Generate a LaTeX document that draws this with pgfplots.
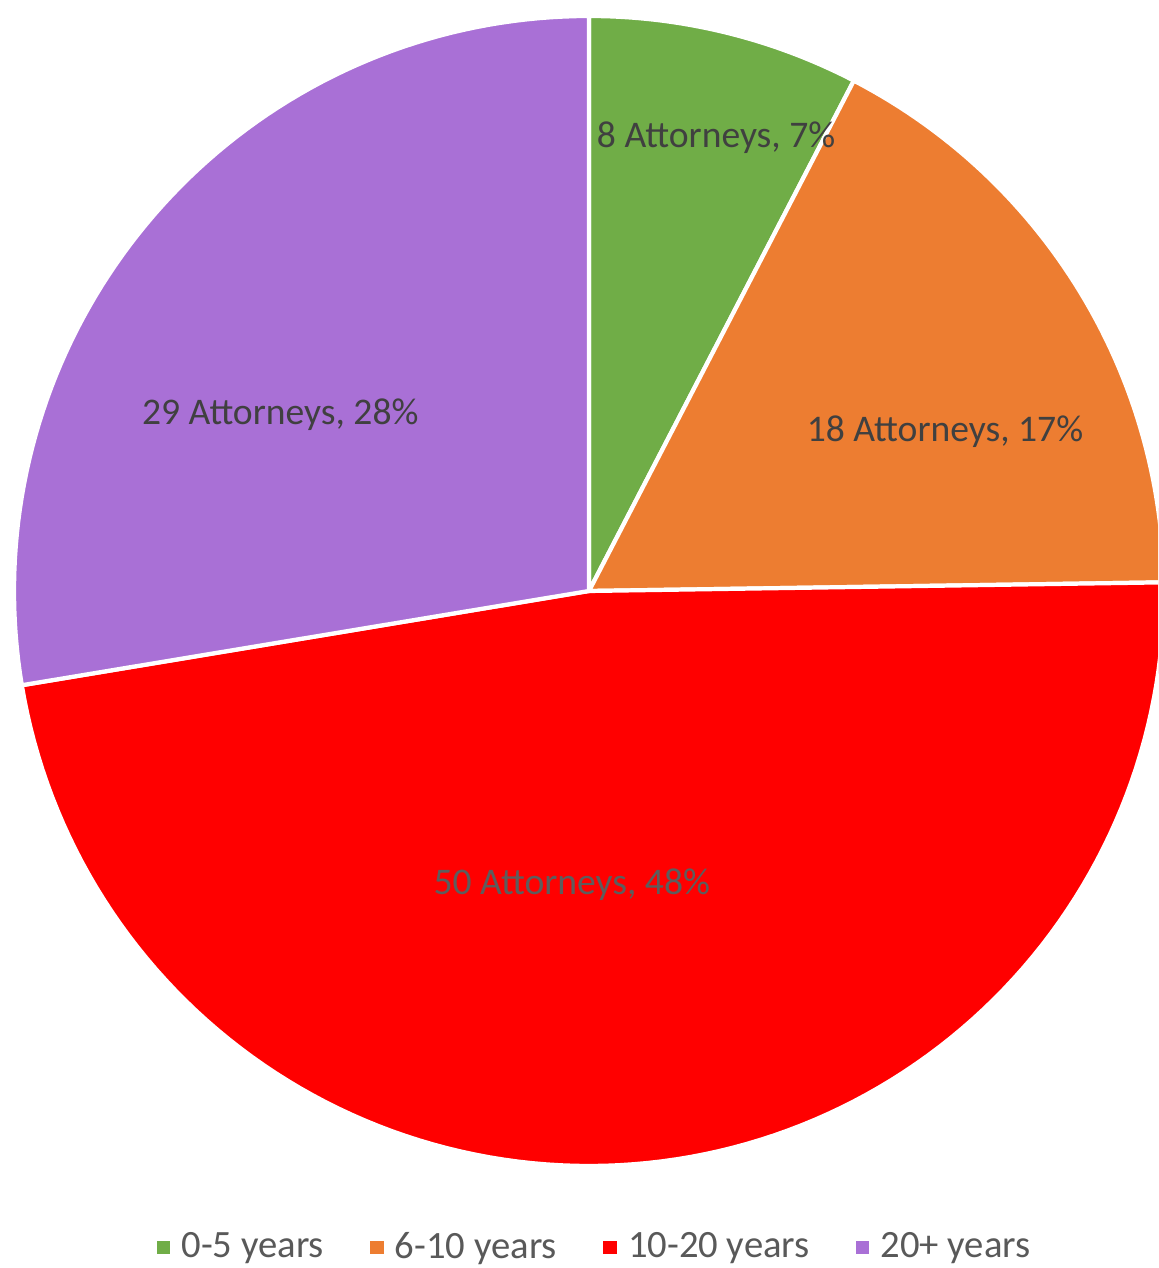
\documentclass[border=0pt]{standalone}
\usepackage{pgfplots}
\pgfplotsset{compat=1.18}
\usepackage{fontspec}
\setmainfont{Carlito}
\definecolor{cgreen}{HTML}{70AD47}
\definecolor{corange}{HTML}{ED7D31}
\definecolor{cred}{HTML}{FF0000}
\definecolor{cpurple}{HTML}{A970D6}
\definecolor{lbl}{HTML}{404040}
\definecolor{leg}{HTML}{595959}
% data: number of attorneys
\def\vA{8}\def\vB{18}\def\vC{50}\def\vD{29}
\pgfmathsetmacro\tot{\vA+\vB+\vC+\vD}
\pgfmathsetmacro\aA{90}
\pgfmathsetmacro\aB{\aA-\vA/\tot*360}
\pgfmathsetmacro\aC{\aB-\vB/\tot*360}
\pgfmathsetmacro\aD{\aC-\vC/\tot*360}
\pgfmathsetmacro\aE{\aD-\vD/\tot*360}
\begin{document}
\begin{tikzpicture}
\begin{axis}[
  name=ax,
  x=5.75cm, y=5.75cm,
  xmin=-1.02435, xmax=0.98957, ymin=-1.17739, ymax=1.02783,
  hide axis,
  legend columns=4,
  legend style={draw=none, fill=none, at={(rel axis cs:0.516,0.016)}, anchor=center,
    font=\fontsize{11}{12}\selectfont\color{leg},
    /tikz/every even column/.append style={column sep=0.4cm},
    /tikz/every odd column/.append style={column sep=0.05cm}},
  legend cell align=left,
]
\addplot[fill=cgreen, draw=white, line width=1.2pt, domain=\aB:\aA, samples=40, variable=\t, forget plot]
  ({cos(\t)},{sin(\t)}) -- (axis cs:0,0) -- cycle;
\addplot[fill=corange, draw=white, line width=1.2pt, domain=\aC:\aB, samples=60, variable=\t, forget plot]
  ({cos(\t)},{sin(\t)}) -- (axis cs:0,0) -- cycle;
\addplot[fill=cred, draw=white, line width=1.2pt, domain=\aD:\aC, samples=120, variable=\t, forget plot]
  ({cos(\t)},{sin(\t)}) -- (axis cs:0,0) -- cycle;
\addplot[fill=cpurple, draw=white, line width=1.2pt, domain=\aE:\aD, samples=80, variable=\t, forget plot]
  ({cos(\t)},{sin(\t)}) -- (axis cs:0,0) -- cycle;
\addlegendimage{only marks, mark=square*, mark size=1.7pt, color=cgreen}
\addlegendentry{0-5 years}
\addlegendimage{only marks, mark=square*, mark size=1.7pt, color=corange}
\addlegendentry{6-10 years}
\addlegendimage{only marks, mark=square*, mark size=1.7pt, color=cred}
\addlegendentry{10-20 years}
\addlegendimage{only marks, mark=square*, mark size=1.7pt, color=cpurple}
\addlegendentry{20+ years}
\begin{scope}[every node/.style={font=\fontsize{10.7}{12}\selectfont, text=lbl}]
\node at (axis cs:0.221,0.788) {8 Attorneys, 7\%};
\node at (axis cs:0.619,0.277) {18 Attorneys, 17\%};
\node[text=lbl!85!white] at (axis cs:-0.030,-0.511) {50 Attorneys, 48\%};
\node at (axis cs:-0.537,0.306) {29 Attorneys, 28\%};
\end{scope}
\end{axis}
\pgfresetboundingbox
\path[use as bounding box] (ax.south west) rectangle (ax.north east);
\end{tikzpicture}
\end{document}
